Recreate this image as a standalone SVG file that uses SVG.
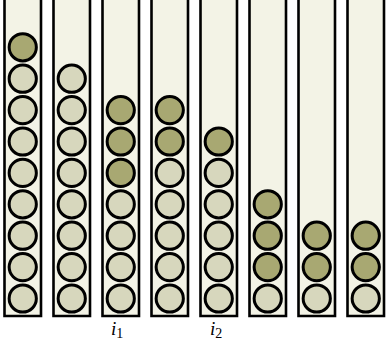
<svg xmlns="http://www.w3.org/2000/svg" width="389" height="342" viewBox="0 0 389 342">
<defs>
<style>
.tube-bg{fill:#f3f3e6;stroke:none}
.tube{fill:none;stroke:#000;stroke-width:2.6}
.l{fill:#d7d7bd;stroke:#000;stroke-width:3}
.d{fill:#a8a872;stroke:#000;stroke-width:3}
.lbl{font-family:"Liberation Serif",serif;font-style:italic;font-size:19px;fill:#000}
.sub{font-family:"Liberation Serif",serif;font-style:normal;font-size:14px}
</style>
<circle id="L" r="13.6" class="l"/>
<circle id="D" r="13.6" class="d"/>
</defs>
<rect width="389" height="342" fill="#fff"/>
<g id="tube1" transform="translate(4.5,0)">
<rect class="tube-bg" x="0" y="0" width="36.5" height="316"/>
<path class="tube" d="M0,0V316H36.5V0"/>
<use href="#L" x="18.25" y="298.5"/><use href="#L" x="18.25" y="267.1"/><use href="#L" x="18.25" y="235.7"/><use href="#L" x="18.25" y="204.3"/><use href="#L" x="18.25" y="172.9"/><use href="#L" x="18.25" y="141.5"/><use href="#L" x="18.25" y="110.1"/><use href="#L" x="18.25" y="78.7"/><use href="#D" x="18.25" y="47.3"/>
</g>
<g id="tube2" transform="translate(53.5,0)">
<rect class="tube-bg" x="0" y="0" width="36.5" height="316"/>
<path class="tube" d="M0,0V316H36.5V0"/>
<use href="#L" x="18.25" y="298.5"/><use href="#L" x="18.25" y="267.1"/><use href="#L" x="18.25" y="235.7"/><use href="#L" x="18.25" y="204.3"/><use href="#L" x="18.25" y="172.9"/><use href="#L" x="18.25" y="141.5"/><use href="#L" x="18.25" y="110.1"/><use href="#L" x="18.25" y="78.7"/>
</g>
<g id="tube3" transform="translate(102.5,0)">
<rect class="tube-bg" x="0" y="0" width="36.5" height="316"/>
<path class="tube" d="M0,0V316H36.5V0"/>
<use href="#L" x="18.25" y="298.5"/><use href="#L" x="18.25" y="267.1"/><use href="#L" x="18.25" y="235.7"/><use href="#L" x="18.25" y="204.3"/><use href="#D" x="18.25" y="172.9"/><use href="#D" x="18.25" y="141.5"/><use href="#D" x="18.25" y="110.1"/>
</g>
<g id="tube4" transform="translate(151.5,0)">
<rect class="tube-bg" x="0" y="0" width="36.5" height="316"/>
<path class="tube" d="M0,0V316H36.5V0"/>
<use href="#L" x="18.25" y="298.5"/><use href="#L" x="18.25" y="267.1"/><use href="#L" x="18.25" y="235.7"/><use href="#L" x="18.25" y="204.3"/><use href="#L" x="18.25" y="172.9"/><use href="#D" x="18.25" y="141.5"/><use href="#D" x="18.25" y="110.1"/>
</g>
<g id="tube5" transform="translate(200.5,0)">
<rect class="tube-bg" x="0" y="0" width="36.5" height="316"/>
<path class="tube" d="M0,0V316H36.5V0"/>
<use href="#L" x="18.25" y="298.5"/><use href="#L" x="18.25" y="267.1"/><use href="#L" x="18.25" y="235.7"/><use href="#L" x="18.25" y="204.3"/><use href="#L" x="18.25" y="172.9"/><use href="#D" x="18.25" y="141.5"/>
</g>
<g id="tube6" transform="translate(249.5,0)">
<rect class="tube-bg" x="0" y="0" width="36.5" height="316"/>
<path class="tube" d="M0,0V316H36.5V0"/>
<use href="#L" x="18.25" y="298.5"/><use href="#D" x="18.25" y="267.1"/><use href="#D" x="18.25" y="235.7"/><use href="#D" x="18.25" y="204.3"/>
</g>
<g id="tube7" transform="translate(298.5,0)">
<rect class="tube-bg" x="0" y="0" width="36.5" height="316"/>
<path class="tube" d="M0,0V316H36.5V0"/>
<use href="#L" x="18.25" y="298.5"/><use href="#D" x="18.25" y="267.1"/><use href="#D" x="18.25" y="235.7"/>
</g>
<g id="tube8" transform="translate(347.5,0)">
<rect class="tube-bg" x="0" y="0" width="36.5" height="316"/>
<path class="tube" d="M0,0V316H36.5V0"/>
<use href="#L" x="18.25" y="298.5"/><use href="#D" x="18.25" y="267.1"/><use href="#D" x="18.25" y="235.7"/>
</g>
<g id="connectors"/>
<g id="labels">
<text class="lbl" x="111" y="335">i<tspan class="sub" dy="3">1</tspan></text>
<text class="lbl" x="210" y="335">i<tspan class="sub" dy="3">2</tspan></text>
</g>
</svg>
